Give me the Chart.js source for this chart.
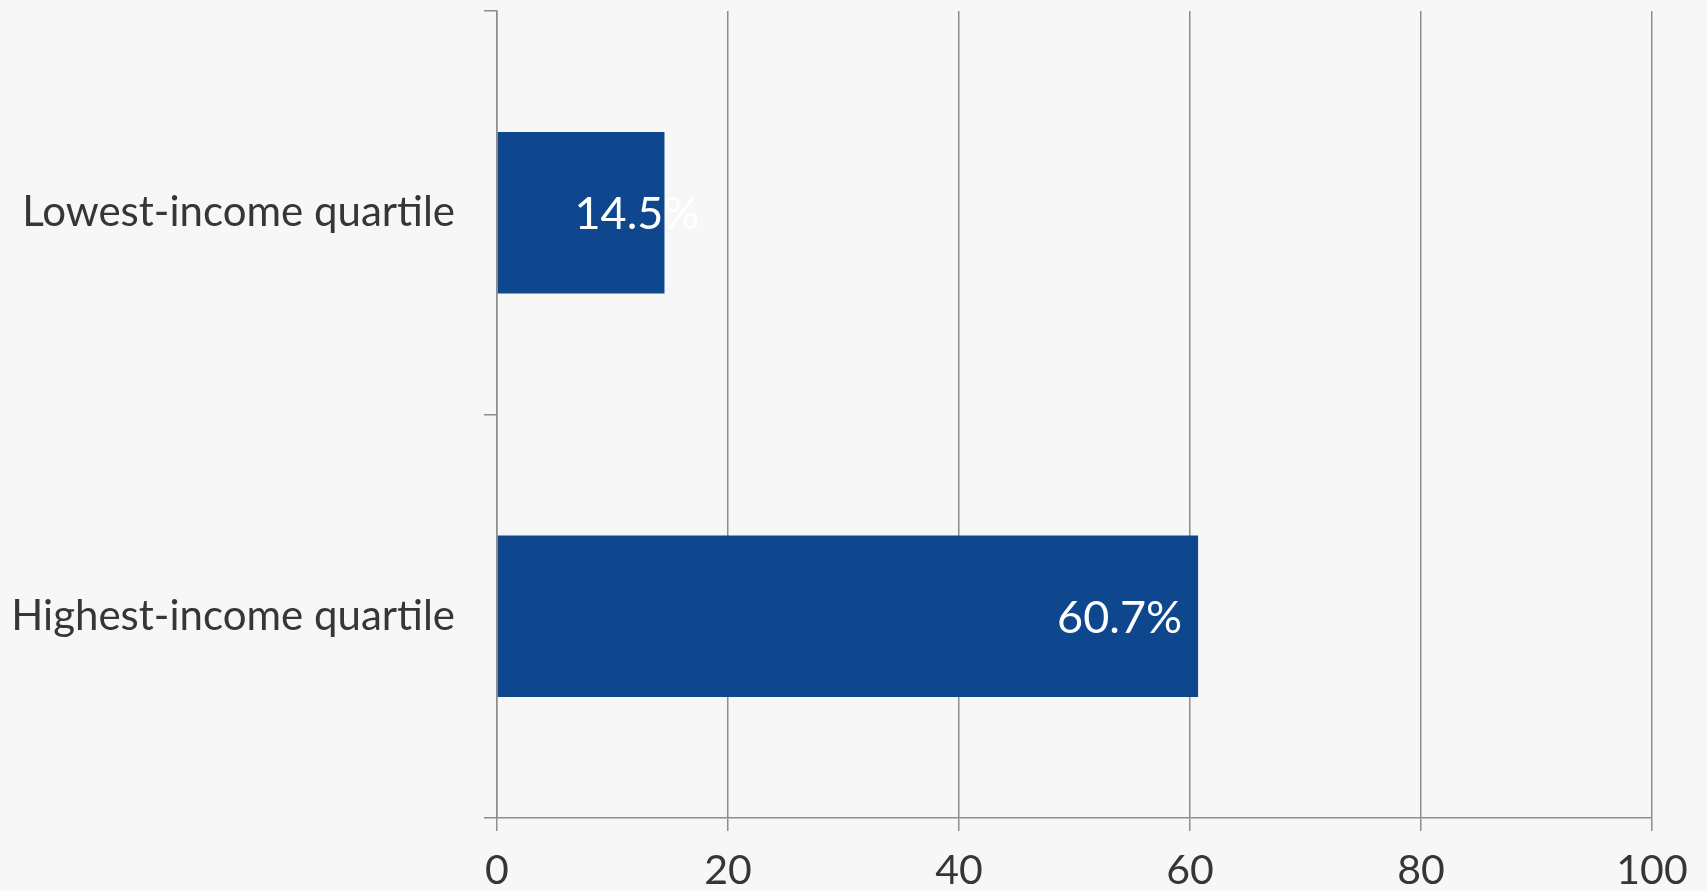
<!DOCTYPE html>
<html>
<head>
<meta charset="utf-8">
<script src="https://cdn.jsdelivr.net/npm/chart.js@4/dist/chart.umd.min.js"></script>
<style>
  html, body { margin: 0; padding: 0; background: #f7f7f7; }
  #wrap { width: 1707px; height: 891px; position: relative; }
</style>
</head>
<body>
<div id="wrap"><canvas id="chartQuartiles"></canvas></div>
<script>
// Datos del gráfico
const categories = ["Lowest-income quartile", "Highest-income quartile"];
const values     = [14.5, 60.7];
const valueLabels = ["14.5%", "60.7%"];
const xTicks     = [0, 20, 40, 60, 80, 100];

const FONT = "Lato, 'Open Sans', sans-serif";
const TEXT = "#363636";
const GRID = "#8d8d8d";

// Etiquetas blancas al final de cada barra
const barLabels = {
  id: "barLabels",
  afterDatasetsDraw(chart, args, opts) {
    const { ctx } = chart;
    const meta = chart.getDatasetMeta(0);
    ctx.save();
    ctx.font = `${opts.size}px ${FONT}`;
    ctx.fillStyle = "#ffffff";
    ctx.textAlign = "right";
    ctx.textBaseline = "middle";
    meta.data.forEach((bar, i) => {
      ctx.fillText(valueLabels[i], bar.x + opts.shift[i], bar.y + 2);
    });
    ctx.restore();
  }
};

new Chart(document.getElementById("chartQuartiles"), {
  type: "bar",
  data: {
    labels: categories,
    datasets: [{
      data: values,
      backgroundColor: "#0e478e",
      barPercentage: 0.4,
      categoryPercentage: 1.0
    }]
  },
  options: {
    indexAxis: "y",
    responsive: true,
    maintainAspectRatio: false,
    animation: false,
    layout: { padding: { left: 0, right: 55, top: 11, bottom: 0 } },
    plugins: {
      legend: { display: false },
      tooltip: { enabled: false },
      barLabels: { size: 45, shift: [35, -16] }
    },
    scales: {
      x: {
        min: 0,
        max: 100,
        afterBuildTicks(s) { s.ticks = xTicks.map(v => ({ value: v })); },
        afterFit(s) { s.height = 73; },
        grid: { color: GRID, lineWidth: 1.5, tickLength: 13, drawTicks: true },
        border: { color: GRID, width: 1.5 },
        ticks: { color: TEXT, font: { family: FONT, size: 41 }, padding: 15, maxRotation: 0 }
      },
      y: {
        afterFit(s) { s.width = 497; s.paddingTop = 0; s.paddingBottom = 0; },
        grid: { drawOnChartArea: false, color: GRID, lineWidth: 1.5, tickLength: 13 },
        border: { color: GRID, width: 1.5 },
        ticks: { color: TEXT, font: { family: FONT, size: 42 }, padding: 29 }
      }
    }
  },
  plugins: [barLabels]
});
</script>
</body>
</html>
